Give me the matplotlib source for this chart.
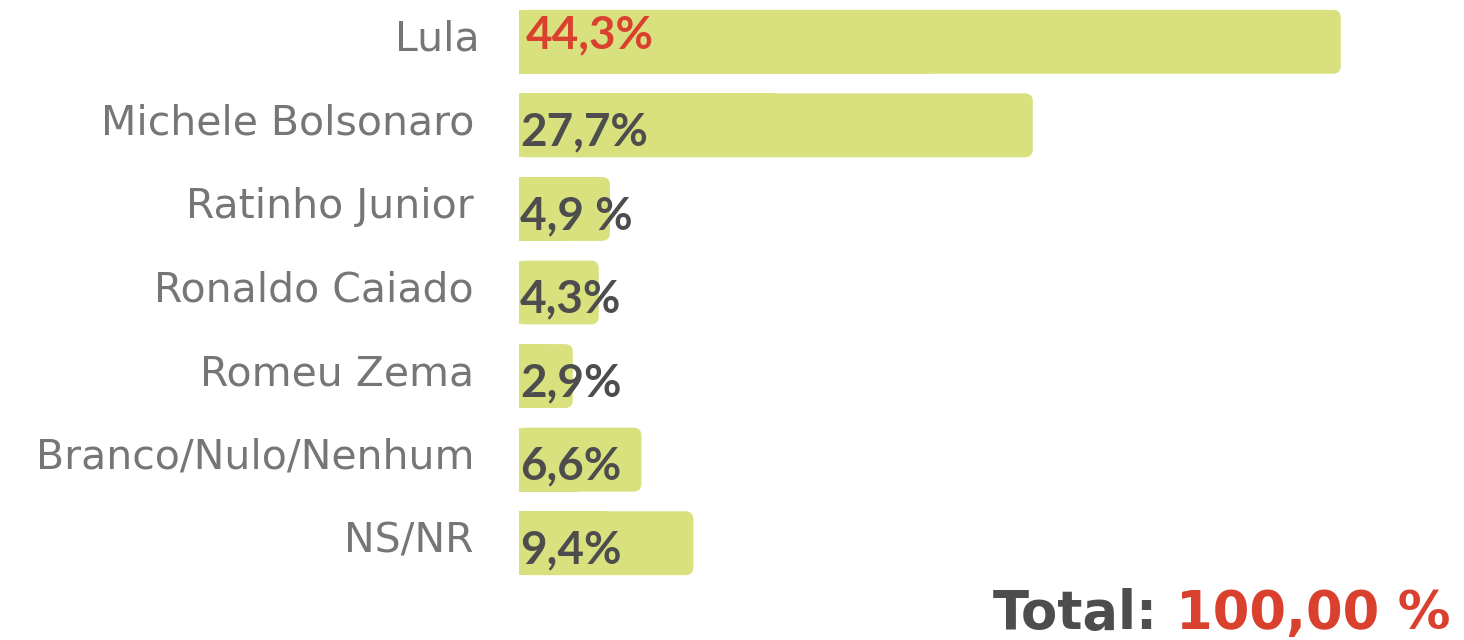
import matplotlib
matplotlib.use("Agg")
import matplotlib.pyplot as plt
from matplotlib.patches import FancyBboxPatch, Rectangle

categories = ["Lula", "Michele Bolsonaro", "Ratinho Junior", "Ronaldo Caiado",
              "Romeu Zema", "Branco/Nulo/Nenhum", "NS/NR"]
values = [44.3, 27.7, 4.9, 4.3, 2.9, 6.6, 9.4]
value_labels = ["44,3%", "27,7%", "4,9 %", "4,3%", "2,9%", "6,6%", "9,4%"]
total_label = "Total:"
total_value = "100,00 %"

BAR = "#d9e07e"
GRAY_LABEL = "#767676"
GRAY_VALUE = "#4d4d4d"
RED = "#d9402e"

W, H, DPI = 1464, 640, 100
fig = plt.figure(figsize=(W / DPI, H / DPI), dpi=DPI, facecolor="white")

# axes spanning the bar area, in pixels converted to figure fractions
left_px, right_px = 519, 519 + 50 * 18.55
top_px, bottom_px = 0, 585
ax = fig.add_axes([left_px / W, 1 - bottom_px / H,
                   (right_px - left_px) / W, (bottom_px - top_px) / H])
ax.set_xlim(0, 50)
ax.set_ylim(len(categories) - 0.5, -0.5)
ax.axis("off")

bar_h = 0.765
px_x = 18.55            # pixels per percent
px_y = 585 / len(categories)
r_px = 8
rx = r_px / px_x
aspect = (r_px / px_y) / rx

for i, v in enumerate(values):
    y0 = i - bar_h / 2
    ax.add_patch(FancyBboxPatch((0, y0), v, bar_h,
                                boxstyle=f"round,pad=0,rounding_size={rx}",
                                mutation_aspect=aspect,
                                facecolor=BAR, edgecolor="none"))
    ax.add_patch(Rectangle((0, y0), v / 2, bar_h, facecolor=BAR, edgecolor="none"))

# value labels inside the bars
for i, (v, lab) in enumerate(zip(values, value_labels)):
    if i == 0:
        color, dx, dy = RED, 7, 6
    else:
        color, dx, dy = GRAY_VALUE, 1, -7
    ax.annotate(lab, xy=(0, i), xytext=(dx * 0.72, dy * 0.72),
                textcoords="offset points", ha="left", va="center",
                fontsize=33, fontweight="bold", family="Lato", color=color)

# category labels on the left
for i, cat in enumerate(categories):
    dx = -39 if i == 0 else -45
    ax.annotate(cat, xy=(0, i), xytext=(dx * 0.72, 2 * 0.72),
                textcoords="offset points", ha="right", va="center",
                fontsize=29.5, family="DejaVu Sans", fontweight="normal",
                color=GRAY_LABEL, annotation_clip=False)

# total line at the bottom right
base_y = 1 - 629 / H
t2 = fig.text(1450 / W, base_y, total_value, ha="right", va="baseline",
              fontsize=38, fontweight="bold", family="DejaVu Sans", color=RED)
fig.canvas.draw()
bb = t2.get_window_extent()
fig.text((bb.x0 - 18) / W, base_y, total_label, ha="right", va="baseline",
         fontsize=38, fontweight="bold", family="DejaVu Sans", color=GRAY_VALUE)

fig.savefig("out.png", dpi=DPI, facecolor="white")
